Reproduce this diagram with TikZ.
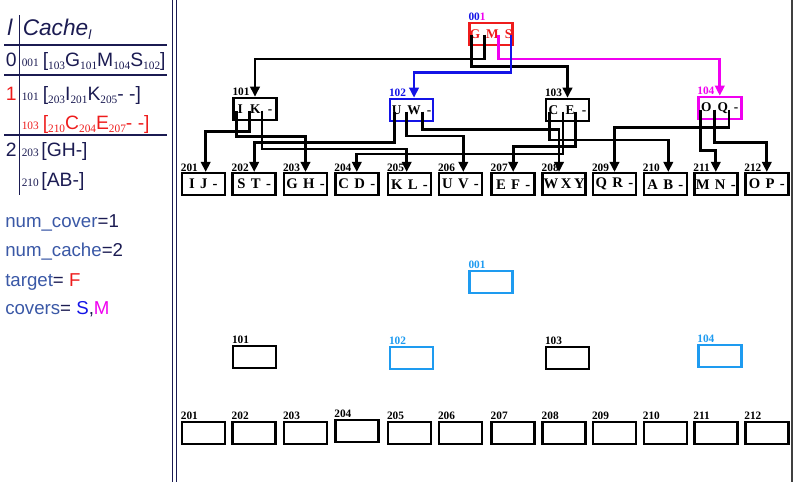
\documentclass[tikz,border=0pt]{standalone}
\usepackage{fontspec}
\setmainfont{Liberation Serif}
\newfontfamily\lsans{Liberation Sans}
\usetikzlibrary{arrows.meta,calc}
\definecolor{navyt}{RGB}{27,27,82}
\definecolor{steel}{RGB}{58,88,166}
\definecolor{redc}{RGB}{238,28,28}
\definecolor{bluec}{RGB}{20,20,230}
\definecolor{magc}{RGB}{240,0,240}
\definecolor{lblue}{RGB}{30,155,240}
\newcommand{\lsub}[1]{\raisebox{-2.4pt}{\fontsize{8.5}{8.5}\selectfont\rmfamily #1}}
\newcommand{\lpre}[1]{{\fontsize{8.5}{8.5}\selectfont\rmfamily #1}}
\newcommand{\gp}{\hspace{5.5pt}}
\begin{document}
\begin{tikzpicture}[x=0.75pt,y=-0.75pt,
  box/.style={draw, line width=1.9pt, minimum width=32.2pt, minimum height=16.5pt, inner sep=0pt,
    font=\bfseries\fontsize{11}{11}\selectfont},
  boxa/.style={box, font=\bfseries\fontsize{10}{10}\selectfont},
  lab/.style={anchor=south west, inner sep=0pt, yshift=0.3pt, font=\bfseries\fontsize{8.5}{8.5}\selectfont},
  conn/.style={line width=2pt, -{Triangle[length=7.5pt,width=7pt]}},
  ltxt/.style={anchor=base west, inner sep=0pt, text=navyt, font=\lsans\fontsize{14.5}{14.5}\selectfont},
  btxt/.style={anchor=base west, inner sep=0pt, text=navyt, font=\lsans\fontsize{14}{14}\selectfont},
  tline/.style={navyt, line width=1pt}]
\useasboundingbox (0,0) rectangle (794,482);

% separators
\draw[navyt, line width=0.9pt] (172.5,0) -- (172.5,482);
\draw[navyt, line width=0.9pt] (176.5,0) -- (176.5,482);
\draw[black!75, line width=0.9pt] (792,0) -- (792,482);

% ---------- left table ----------
\node[ltxt, font=\lsans\itshape\fontsize{17}{17}\selectfont] (hl) at (7,35) {l};
\node[ltxt, font=\lsans\itshape\fontsize{17}{17}\selectfont] (hc) at (22.5,35) {Cache\raisebox{-3pt}{\fontsize{10}{10}\selectfont l}};
\draw[tline] (4,45) -- (166.7,45);
\draw[tline] (4,75) -- (166.7,75);
\draw[tline] (4,135) -- (166.7,135);
\draw[tline] (19.3,15) -- (19.3,195);

\node[ltxt] (r0) at (5.5,66.7) {0};
\node[ltxt] (t0) at (21.5,66.7) {\lpre{001}\hspace{3pt}[\lsub{103}G\lsub{101}M\lsub{104}S\lsub{102}]};
\node[ltxt, text=redc] (r1) at (5.5,100) {1};
\node[ltxt] (t1) at (21.5,100) {\lpre{101}\hspace{3pt}[\lsub{203}I\lsub{201}K\lsub{205}- -]};
\node[ltxt, text=redc] (t2) at (21.5,129.3) {\lpre{103}\hspace{3pt}[\lsub{210}C\lsub{204}E\lsub{207}- -]};
\node[ltxt] (r2) at (5.5,156.7) {2};
\node[ltxt] (t3) at (21.5,156.7) {\lpre{203}\hspace{2pt}[GH-]};
\node[ltxt] (t4) at (21.5,186.7) {\lpre{210}\hspace{2pt}[AB-]};

\node[btxt] (v1) at (5,227.3) {\textcolor{steel}{num\_cover}=1};
\node[btxt] (v2) at (5,256.7) {\textcolor{steel}{num\_cache}=2};
\node[btxt] (v3) at (5,286) {\textcolor{steel}{target}= \textcolor{redc}{F}};
\node[btxt] (v4) at (5,314.5) {\textcolor{steel}{covers}= \textcolor{bluec}{S},\textcolor{magc}{M}};

% ---------- upper tree ----------
\node[boxa, draw=redc, text=redc] (n001) at (491,34) {G\hspace{4.5pt}M\hspace{4.5pt}S};
\node[lab] (l001) at (n001.north west) {\textcolor{bluec}{00}\textcolor{magc}{1}};

\node[boxa] (n101) at (255,109) {I\gp K\gp -};
\node[lab] at (n101.north west) {101};
\node[boxa, draw=bluec] (n102) at (411.5,110) {U\hspace{4.5pt}W\hspace{4.5pt}-};
\node[lab, text=bluec] at (n102.north west) {102};
\node[boxa] (n103) at (567.5,110) {C\gp E\gp -};
\node[lab] at (n103.north west) {103};
\node[boxa, draw=magc] (n104) at (719.8,108) {O\hspace{4.5pt}Q\hspace{4.5pt}-};
\node[lab, text=magc] at (n104.north west) {104};

\foreach \n/\t/\x in {201/{I\hspace{4pt}J\hspace{4pt}-}/203.3, 202/{S\hspace{4pt}T\hspace{4pt}-}/254.2,
  203/{G\hspace{4pt}H\hspace{4pt}-}/305.5, 204/{C\hspace{4pt}D\hspace{4pt}-}/356.8,
  205/{K\hspace{4pt}L\hspace{4pt}-}/409.5, 206/{U\hspace{4pt}V\hspace{4pt}-}/460.5,
  207/{E\hspace{4pt}F\hspace{4pt}-}/513.2, 208/{W\hspace{2pt}X\hspace{2pt}Y}/564.2,
  209/{Q\hspace{4pt}R\hspace{4pt}-}/614.5, 210/{A\hspace{4pt}B\hspace{4pt}-}/665.3,
  211/{M\hspace{4pt}N\hspace{4pt}-}/715.8, 212/{O\hspace{4pt}P\hspace{4pt}-}/766.8} {
  \node[box] (n\n) at (\x,184.2) {\t};
  \node[lab] at (n\n.north west) {\n};
}

% slot coordinates
\coordinate (a0) at ($(n001.north west)+(3.4,13)$);
\coordinate (a1) at ($(n001.north west)+(16,13)$);
\coordinate (a2) at ($(n001.north west)+(30,13)$);
\coordinate (a3) at ($(n001.north west)+(42.7,13)$);
\coordinate (p101a) at ($(n101.north west)+(4,14)$);
\coordinate (p101b) at ($(n101.north west)+(17.3,14)$);
\coordinate (p101c) at ($(n101.north west)+(29.7,14)$);
\coordinate (p102a) at ($(n102.north west)+(6,14)$);
\coordinate (p102b) at ($(n102.north west)+(17.7,14)$);
\coordinate (p102c) at ($(n102.north west)+(33.7,14)$);
\coordinate (p103a) at ($(n103.north west)+(5,14)$);
\coordinate (p103b) at ($(n103.north west)+(18.3,14)$);
\coordinate (p103c) at ($(n103.north west)+(30.5,14)$);
\coordinate (p104a) at ($(n104.north west)+(3.4,14)$);
\coordinate (p104b) at ($(n104.north west)+(17.7,14)$);
\coordinate (p104c) at ($(n104.north west)+(32,14)$);

% level 0 -> level 1
\draw[conn] (a0) -- ++(0,31.7) -| (n103.north);
\draw[conn] (a1) -- ++(0,24.3) -| (n101.north);
\draw[conn, magc] (a2) -- ++(0,24.3) -| (n104.north);
\draw[conn, bluec] (a3) -- ++(0,37.5) -| ([xshift=1.9pt]n102.north);

% level 1 -> level 2
\draw[conn] (p101a) -- ++(0,25.7) -| (n203.north);
\draw[conn] (p101b) -- ++(0,20.7) -| ([xshift=1.8pt]n201.north);
\draw[conn] (p101c) -- ++(0,38.3) -| ([xshift=-2.1pt]n205.north);
\draw[conn] (p102a) -- ++(0,31) -| (n202.north);
\draw[conn] (p102b) -- ++(0,24.3) -| ([xshift=2.1pt]n206.north);
\draw[conn] (p102c) -- ++(0,17.8) -| ([xshift=-3.9pt]n208.north);
\draw[conn] (p103a) -- ++(0,28.3) -| ([xshift=2.25pt]n210.north);
\draw[conn] (p103b) -- ++(0,42.3) -| (n204.north);
\draw[conn] (p103c) -- ++(0,34.8) -| (n207.north);
\draw[conn] (p104a) -- ++(0,41) -| (n211.north);
\draw[conn] (p104b) -- ++(0,32.7) -| (n212.north);
\draw[conn] (p104c) -- ++(0,17.7) -| (n209.north);

% ---------- lower (empty) tree ----------
\node[box, draw=lblue] (m001) at (491,282) {};
\node[lab, text=lblue] at (m001.north west) {001};
\node[box] (m101) at (254.5,357) {};
\node[lab] at (m101.north west) {101};
\node[box, draw=lblue] (m102) at (411.5,357.8) {};
\node[lab, text=lblue] at (m102.north west) {102};
\node[box] (m103) at (567.5,357.8) {};
\node[lab] at (m103.north west) {103};
\node[box, draw=lblue] (m104) at (719.8,356) {};
\node[lab, text=lblue] at (m104.north west) {104};

\foreach \n/\x/\y in {201/203.3/432.8, 202/254.2/432.8, 203/305.5/432.8, 204/356.8/430.8,
  205/409.5/432.8, 206/460.5/432.8, 207/513.2/432.8, 208/564.2/432.8,
  209/614.5/432.8, 210/665.3/432.8, 211/715.8/432.8, 212/766.8/432.8} {
  \node[box] (m\n) at (\x,\y) {};
  \node[lab] at (m\n.north west) {\n};
}
\end{tikzpicture}
\end{document}
